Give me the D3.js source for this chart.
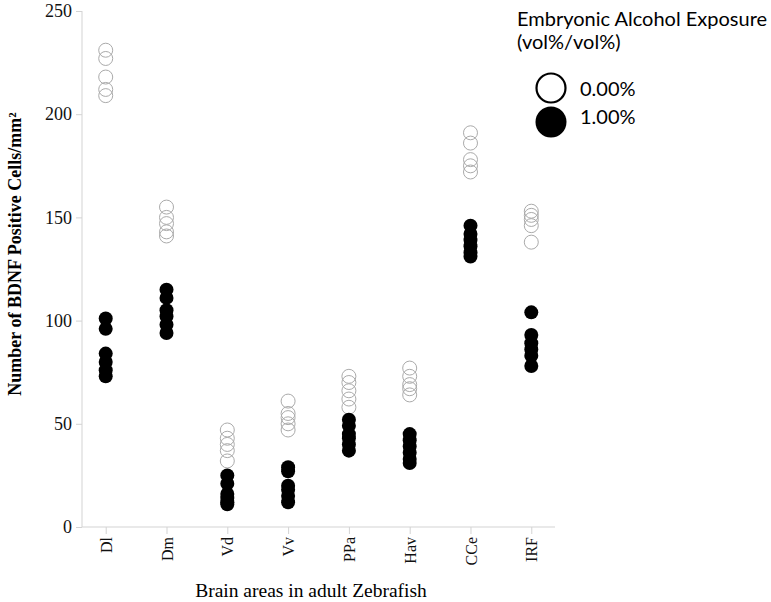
<html>
<head>
  <script src="https://d3js.org/d3.v7.min.js"></script>
  <meta charset="utf-8">
  <title>BDNF positive cells</title>
<style>
body { margin: 0; background: #fff; }
svg { background: #fff; }
.axis path, .axis line { stroke: #d3d3d3; }
.axis text { font-family: "Liberation Serif", "Times New Roman", serif; fill: #111; }
</style>
</head>
<body>
<script>
var width = 771,
    height = 602;

// brain areas
var categories = ['Dl', 'Dm', 'Vd', 'Vv', 'PPa', 'Hav', 'CCe', 'IRF'];
var yTicks = [0, 50, 100, 150, 200, 250];
var groups = ['0.00%', '1.00%'];

// 0.00% exposure, one list per brain area
var control = [
  [231, 227, 218, 212, 209],
  [155, 150, 147, 143, 141],
  [47, 43, 40, 37, 32],
  [61, 55, 53, 50, 47],
  [73, 70, 66, 62, 58],
  [77, 73, 69, 67, 64],
  [191, 186, 178, 175, 172],
  [153, 151, 149, 146, 138]
];
// 1.00% exposure
var alcohol = [
  [101, 96, 84, 80, 76, 73],
  [115, 111, 105, 102, 98, 94],
  [25, 21, 16, 14, 12, 11],
  [29, 27, 20, 18, 15, 12],
  [52, 49, 45, 43, 40, 37],
  [45, 42, 39, 36, 33, 31],
  [146, 142, 139, 136, 133, 131],
  [104, 93, 89, 86, 83, 78]
];

var svg = d3.select('body').append('svg')
  .attr('width', width)
  .attr('height', height);

var x = d3.scalePoint()
  .domain(categories)
  .range([82, 555])
  .padding(0.39);

var y = d3.scaleLinear()
  .domain([0, 250])
  .range([527, 11]);

// axes
var yAxis = svg.append('g')
  .attr('class', 'axis')
  .attr('transform', 'translate(82,0)')
  .call(d3.axisLeft(y).tickValues(yTicks).tickSize(6).tickPadding(4));
yAxis.select('.domain').attr('d', 'M0,' + y(250) + 'V' + y(0));
yAxis.selectAll('text').style('font-size', '18px');

var xAxis = svg.append('g')
  .attr('class', 'axis')
  .attr('transform', 'translate(0,527)')
  .call(d3.axisBottom(x).tickSize(7).tickSizeOuter(0));
xAxis.select('.domain').attr('d', 'M82,0H555');
xAxis.selectAll('text')
  .style('font-size', '16px')
  .style('text-anchor', 'end')
  .attr('transform', 'rotate(-90)')
  .attr('x', -10)
  .attr('y', 0)
  .attr('dy', '0.35em');

// axis titles
svg.append('text')
  .attr('transform', 'translate(21,254) rotate(-90)')
  .attr('text-anchor', 'middle')
  .style('font-family', '"Liberation Serif", serif')
  .style('font-weight', 'bold')
  .style('font-size', '18px')
  .text('Number of BDNF Positive Cells/mm²');

svg.append('text')
  .attr('x', 311)
  .attr('y', 597)
  .attr('text-anchor', 'middle')
  .style('font-family', '"Liberation Serif", serif')
  .style('font-size', '19.5px')
  .text('Brain areas in adult Zebrafish');

// points
var data = [];
categories.forEach(function (c, i) {
  control[i].forEach(function (v) { data.push({cat: c, v: v, g: 0}); });
  alcohol[i].forEach(function (v) { data.push({cat: c, v: v, g: 1}); });
});

svg.selectAll('circle.pt')
  .data(data)
  .enter()
  .append('circle')
  .attr('class', 'pt')
  .attr('cx', function (d) { return x(d.cat); })
  .attr('cy', function (d) { return y(d.v); })
  .attr('r', 7)
  .style('fill', function (d) { return d.g === 0 ? 'none' : '#000'; })
  .style('stroke', function (d) { return d.g === 0 ? '#aaa' : 'none'; })
  .style('stroke-width', 1);

// legend
var legend = svg.append('g')
  .style('font-family', 'Lato, "Open Sans", sans-serif');
legend.append('text')
  .attr('x', 517).attr('y', 26)
  .style('font-size', '20px')
  .text('Embryonic Alcohol Exposure');
legend.append('text')
  .attr('x', 517).attr('y', 49)
  .style('font-size', '20px')
  .text('(vol%/vol%)');

var items = legend.selectAll('g.item')
  .data(groups)
  .enter()
  .append('g')
  .attr('class', 'item')
  .attr('transform', function (d, i) { return 'translate(551,' + (88 + i * 34) + ')'; });
items.append('circle')
  .attr('r', function (d, i) { return i === 0 ? 14.5 : 15.5; })
  .style('fill', function (d, i) { return i === 0 ? '#fff' : '#000'; })
  .style('stroke', '#000')
  .style('stroke-width', function (d, i) { return i === 0 ? 2.2 : 0; });
items.append('text')
  .attr('x', 29)
  .attr('y', function (d, i) { return i === 0 ? 1 : -5; })
  .attr('dy', '0.35em')
  .style('font-size', '20px')
  .text(function (d) { return d; });
</script>
</body>
</html>
